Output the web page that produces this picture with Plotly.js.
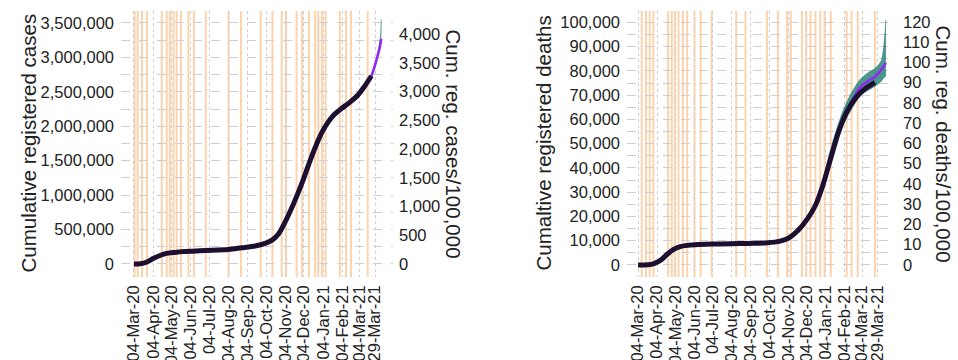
<!DOCTYPE html>
<html>
<head>
<meta charset="utf-8">
<script src="https://cdn.plot.ly/plotly-3.0.1.min.js"></script>
<style>
  html, body { margin: 0; padding: 0; background: #ffffff; }
  #chart { width: 958px; height: 360px; }
</style>
</head>
<body>
<div id="chart"></div>
<script>
// Population used for the per-100,000 secondary axes
const population = 83500000;

// Month tick marks shared by both panels
const tickDates = ['2020-03-04','2020-04-04','2020-05-04','2020-06-04','2020-07-04','2020-08-04',
  '2020-09-04','2020-10-04','2020-11-04','2020-12-04','2021-01-04','2021-02-04','2021-03-04','2021-03-29'];
const tickLabels = ['04-Mar-20','04-Apr-20','04-May-20','04-Jun-20','04-Jul-20','04-Aug-20',
  '04-Sep-20','04-Oct-20','04-Nov-20','04-Dec-20','04-Jan-21','04-Feb-21','04-Mar-21','29-Mar-21'];

// ---- Cumulative registered cases ----
const caseDates = ['2020-03-04','2020-03-14','2020-03-24','2020-04-04','2020-04-14','2020-04-24',
  '2020-05-09','2020-05-24','2020-06-08','2020-06-28','2020-07-18','2020-08-07','2020-08-27',
  '2020-09-16','2020-10-01','2020-10-14','2020-10-24','2020-11-03','2020-11-13','2020-11-23',
  '2020-12-03','2020-12-13','2020-12-23','2021-01-02','2021-01-12','2021-01-22','2021-02-03',
  '2021-02-15','2021-03-01','2021-03-12','2021-03-23'];
const caseValues = [0, 3000, 25000, 80000, 120000, 150000,
  168000, 180000, 186000, 195000, 203000, 215000, 237000,
  262000, 295000, 350000, 440000, 600000, 790000, 1000000,
  1230000, 1480000, 1710000, 1910000, 2060000, 2170000, 2260000,
  2340000, 2450000, 2580000, 2730000];

// Model projection for cases
const caseFitDates = ['2021-03-01','2021-03-12','2021-03-23','2021-03-28','2021-04-02','2021-04-05','2021-04-08'];
const caseFitValues = [2450000, 2580000, 2730000, 2860000, 3020000, 3120000, 3270000];

// Projection interval for cases
const caseBandDates = ['2021-03-01','2021-03-23','2021-03-28','2021-04-02','2021-04-05','2021-04-07','2021-04-08'];
const caseBandLow  = [2440000, 2715000, 2845000, 3000000, 3095000, 3180000, 3250000];
const caseBandHigh = [2465000, 2750000, 2880000, 3050000, 3180000, 3330000, 3550000];

// Dates marked with vertical lines (cases panel)
const caseEvents = ['2020-03-05','2020-03-10','2020-03-17','2020-03-25','2020-04-18','2020-04-26',
  '2020-05-01','2020-05-07','2020-05-12','2020-05-19','2020-05-31','2020-06-09','2020-06-28',
  '2020-08-04','2020-08-24','2020-09-25','2020-10-14','2020-10-29','2020-11-05','2020-11-22',
  '2020-12-01','2020-12-12','2020-12-22','2020-12-27','2021-01-02','2021-01-08','2021-01-31',
  '2021-02-10','2021-02-18','2021-03-17'];

// ---- Cumulative registered deaths ----
const deathDates = ['2020-03-04','2020-03-20','2020-03-30','2020-04-10','2020-04-20','2020-05-01',
  '2020-05-12','2020-05-25','2020-06-10','2020-07-01','2020-08-01','2020-09-01','2020-10-01',
  '2020-10-20','2020-11-05','2020-11-20','2020-12-05','2020-12-18','2020-12-31','2021-01-12',
  '2021-01-25','2021-02-08','2021-02-22','2021-03-08','2021-03-25'];
const deathValues = [0, 100, 600, 2000, 4300, 6400,
  7600, 8100, 8400, 8600, 8750, 8900, 9150,
  9700, 11200, 14300, 19000, 24500, 33500, 44000,
  55000, 63500, 69000, 72500, 75300];

// Model projection for deaths
const deathFitDates = ['2021-01-15','2021-02-01','2021-02-13','2021-03-01','2021-03-17','2021-03-25',
  '2021-04-02','2021-04-08','2021-04-12'];
const deathFitValues = [47500, 60000, 66200, 73200, 76400, 77600, 79800, 81800, 83300];

// Projection interval for deaths
const deathBandDates = ['2021-01-01','2021-01-15','2021-02-01','2021-02-15','2021-03-01','2021-03-15',
  '2021-03-25','2021-04-04','2021-04-08','2021-04-12'];
const deathBandLow  = [32500, 45000, 57000, 64000, 69500, 72000, 73500, 75500, 76800, 77700];
const deathBandHigh = [36500, 50500, 63500, 71000, 76500, 79500, 81000, 84000, 89000, 101000];

// Dates marked with vertical lines (deaths panel)
const deathEvents = ['2020-03-10','2020-03-17','2020-03-23','2020-03-29','2020-04-22','2020-04-28',
  '2020-05-03','2020-05-09','2020-05-16','2020-05-23','2020-06-04','2020-06-14','2020-07-02',
  '2020-08-11','2020-08-26','2020-09-30','2020-10-18','2020-11-02','2020-11-08','2020-11-26',
  '2020-12-03','2020-12-10','2020-12-18','2020-12-26','2021-01-02','2021-01-12','2021-02-07',
  '2021-02-15','2021-02-25','2021-03-25'];

// ---- styling ----
const FONT = 'Liberation Sans, Arial, Helvetica, sans-serif';
const TXT = '#222222';
const GRID = '#cfcfcf';
const ORANGE = '#fdd3ae';
const DARK = '#1c0f30';
const PURPLE = '#8f2cf0';
const TEAL = 'rgba(44,132,122,0.85)';

const per100k = v => v * 100000 / population;

function panelTraces(xa, ya, yaSec, obsX, obsY, fitX, fitY, bandX, bandLo, bandHi) {
  return [
    { x: bandX, y: bandLo, xaxis: xa, yaxis: ya, mode: 'lines', type: 'scatter',
      line: { width: 0, shape: 'spline', smoothing: 0.8 }, hoverinfo: 'skip', showlegend: false },
    { x: bandX, y: bandHi, xaxis: xa, yaxis: ya, mode: 'lines', type: 'scatter', fill: 'tonexty',
      fillcolor: TEAL, line: { width: 0.8, color: TEAL, shape: 'spline', smoothing: 0.8 },
      hoverinfo: 'skip', showlegend: false },
    { x: fitX, y: fitY, xaxis: xa, yaxis: ya, mode: 'lines', type: 'scatter',
      line: { width: 2.6, color: PURPLE, shape: 'spline', smoothing: 0.8 }, showlegend: false },
    { x: obsX, y: obsY, xaxis: xa, yaxis: ya, mode: 'lines', type: 'scatter',
      line: { width: 5, color: DARK, shape: 'spline', smoothing: 0.8 }, showlegend: false },
    // per-100,000 scale carried on the secondary axis
    { x: obsX, y: obsY.map(per100k), xaxis: xa, yaxis: yaSec, mode: 'lines', type: 'scatter',
      line: { width: 0 }, opacity: 0, hoverinfo: 'skip', showlegend: false }
  ];
}

const data = [
  ...panelTraces('x', 'y', 'y2', caseDates, caseValues, caseFitDates, caseFitValues,
                 caseBandDates, caseBandLow, caseBandHigh),
  ...panelTraces('x2', 'y3', 'y4', deathDates, deathValues, deathFitDates, deathFitValues,
                 deathBandDates, deathBandLow, deathBandHigh)
];

const W = 958, H = 360;
const px = v => v / W;
const py = v => 1 - v / H;

const tickFont = { family: FONT, size: 16.5, color: TXT };
const yDomain = [py(277), py(11)];

function xAxis(domain, range, anchor) {
  return {
    domain: domain, range: range, anchor: anchor, type: 'date',
    tickmode: 'array', tickvals: tickDates, ticktext: tickLabels, tickangle: -90,
    tickfont: tickFont, ticks: '', ticklabelstandoff: 4,
    showgrid: true, gridcolor: GRID, griddash: 'dot', gridwidth: 1,
    showline: false, zeroline: false
  };
}
function yAxis(domain, range, dtick, minorDtick, anchor) {
  return {
    domain: domain, range: range, anchor: anchor, dtick: dtick, tick0: 0,
    tickformat: ',d', tickfont: tickFont, ticks: '', ticklabelstandoff: 6,
    showgrid: true, gridcolor: GRID, griddash: 'dash', gridwidth: 1,
    minor: { dtick: minorDtick, tick0: 0, showgrid: true, gridcolor: GRID, griddash: 'dash', gridwidth: 1 },
    showline: false, zeroline: false
  };
}
function ySecondary(overlay, anchor, range, dtick) {
  return {
    overlaying: overlay, anchor: anchor, side: 'right', range: range, dtick: dtick, tick0: 0,
    tickformat: ',d', tickfont: tickFont, ticks: '', ticklabelstandoff: 5,
    showgrid: false, showline: false, zeroline: false
  };
}

const caseRange = [-189000, 3674000];
const deathRange = [-4960, 104700];

const shapes = [];
caseEvents.forEach(d => shapes.push({
  type: 'line', xref: 'x', yref: 'y domain', x0: d, x1: d, y0: 0, y1: 1,
  line: { color: ORANGE, width: 2 }, layer: 'below'
}));
deathEvents.forEach(d => shapes.push({
  type: 'line', xref: 'x2', yref: 'y3 domain', x0: d, x1: d, y0: 0, y1: 1,
  line: { color: ORANGE, width: 2 }, layer: 'below'
}));

const titleFont = { family: FONT, size: 20.5, color: TXT };
const ty = py(143.5);
const annotations = [
  { text: 'Cumulative registered cases', x: px(28), y: ty, textangle: -90 },
  { text: 'Cum. reg. cases/100,000', x: px(453), y: ty, textangle: 90 },
  { text: 'Cumaltive registered deaths', x: px(543), y: ty, textangle: -90 },
  { text: 'Cum. reg. deaths/100,000', x: px(943), y: ty, textangle: 90 }
].map(a => Object.assign(a, { xref: 'paper', yref: 'paper', xanchor: 'center', yanchor: 'middle',
  showarrow: false, font: titleFont }));

const layout = {
  width: W, height: H,
  margin: { l: 0, r: 0, t: 0, b: 0 },
  paper_bgcolor: '#ffffff', plot_bgcolor: '#ffffff',
  showlegend: false,
  xaxis: xAxis([px(121), px(393)], ['2020-02-12', '2021-04-27'], 'y'),
  yaxis: yAxis(yDomain, caseRange, 500000, 250000, 'x'),
  yaxis2: ySecondary('y', 'x', caseRange.map(per100k), 500),
  xaxis2: xAxis([px(627), px(897)], ['2020-02-15', '2021-04-30'], 'y3'),
  yaxis3: yAxis(yDomain, deathRange, 10000, 5000, 'x2'),
  yaxis4: ySecondary('y3', 'x2', deathRange.map(per100k), 10),
  shapes: shapes,
  annotations: annotations
};

Plotly.newPlot('chart', data, layout, { displayModeBar: false, staticPlot: true });
</script>
</body>
</html>
